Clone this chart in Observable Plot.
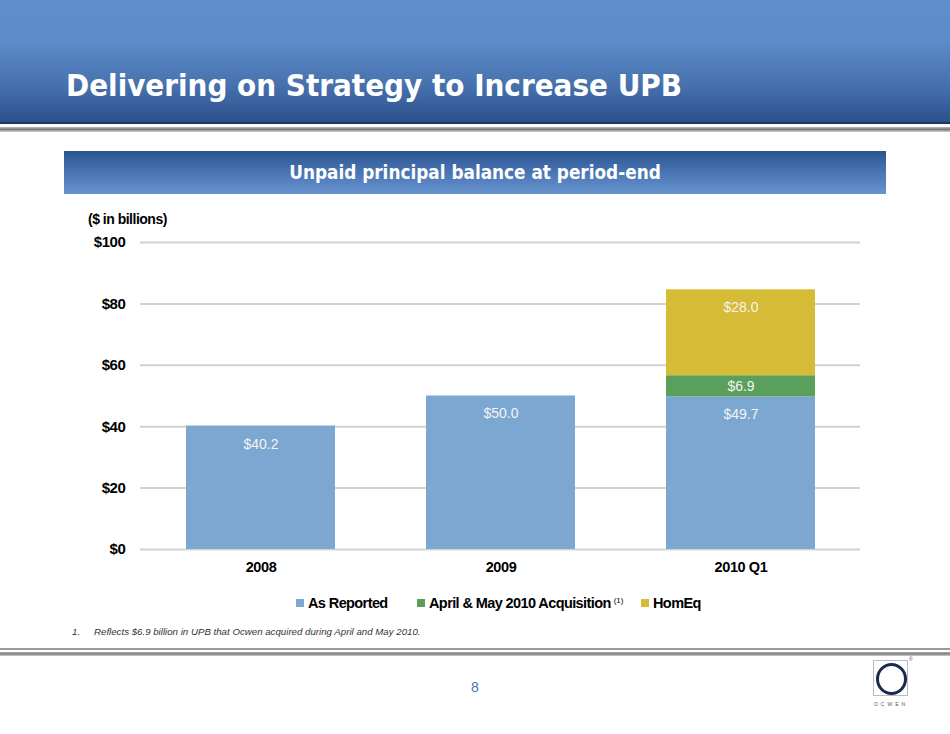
<!DOCTYPE html>
<html>
<head>
<meta charset="utf-8">
<script src="https://cdn.jsdelivr.net/npm/d3@7"></script>
<script src="https://cdn.jsdelivr.net/npm/@observablehq/plot@0.6"></script>
<style>
  html, body { margin: 0; padding: 0; background: #fff; }
  #page { position: relative; width: 950px; height: 734px; overflow: hidden; background: #fff; font-family: "Liberation Sans", Arial, sans-serif; }
  .abs { position: absolute; }
  #header { left: 0; top: 0; width: 950px; height: 122px;
    background: linear-gradient(to bottom, #5e8fcc 0%, #5b8bc8 35%, #4671ad 70%, #2c508c 100%); }
  #hline1 { left: 0; top: 122px; width: 950px; height: 2px; background: #1d3560; }
  #hline2 { left: 0; top: 124px; width: 950px; height: 3px; background: #fff; }
  #hline3 { left: 0; top: 127px; width: 950px; height: 5px; background: linear-gradient(to bottom, #bdbdbd, #7a7a7a, #d8d8d8); }
  #title { left: 66px; top: 67px; color: #fff; font-family: "DejaVu Sans", sans-serif; font-stretch: condensed; font-weight: bold; font-size: 31px; white-space: nowrap; }
  #banner { left: 64px; top: 151px; width: 822px; height: 43px;
    background: linear-gradient(to bottom, #2d5391 0%, #4672b0 45%, #6793d0 100%);
    color: #fff; font-family: "DejaVu Sans", sans-serif; font-stretch: condensed; font-weight: bold; font-size: 18.8px; text-align: center; line-height: 43px; }
  #units { left: 88px; top: 211px; font-weight: bold; font-size: 14px; letter-spacing: -0.5px; color: #000; white-space: nowrap; }
  #chart { left: 0; top: 230px; }
  #legend { left: 0; top: 594px; width: 950px; height: 20px; }
  .lg { position: absolute; top: 0; height: 18px; font-weight: bold; font-size: 14.5px; letter-spacing: -0.6px; color: #000; white-space: nowrap; line-height: 18px; }
  .sw { display: inline-block; width: 8px; height: 8px; margin-right: 4px; vertical-align: 1px; }
  .sup { position: relative; top: -5px; font-size: 8px; font-weight: normal; letter-spacing: 0; margin-left: 3px; line-height: 0; }
  #foot { left: 72px; top: 626px; font-size: 9.7px; font-style: italic; color: #333; white-space: nowrap; }
  #foot span { position: absolute; left: 22px; }
  #bline1 { left: 0; top: 648px; width: 950px; height: 2px; background: #9a9a9a; }
  #bline2 { left: 0; top: 650px; width: 950px; height: 2px; background: #fff; }
  #bline3 { left: 0; top: 652px; width: 950px; height: 4px; background: linear-gradient(to bottom, #b0b0b0, #7c7c7c, #d5d5d5); }
  #pagenum { left: 465px; top: 679px; width: 20px; text-align: center; color: #4d74b8; font-size: 14px; }
  #logo { left: 873px; top: 660px; width: 35px; height: 36px; border: 1px solid #b7bcc8; box-sizing: border-box; }
  #logo div { position: absolute; left: 2px; top: 2px; width: 25px; height: 26px; border: 3px solid #1a2a4e; border-radius: 50%; }
  #ocwen { left: 866px; top: 701px; width: 50px; text-align: center; font-size: 5px; letter-spacing: 3px; color: #555; }
  #reg { left: 909px; top: 656px; font-size: 5px; color: #555; }
</style>
</head>
<body>
<div id="page">
  <div id="header" class="abs"></div>
  <div id="hline1" class="abs"></div>
  <div id="hline2" class="abs"></div>
  <div id="hline3" class="abs"></div>
  <div id="title" class="abs">Delivering on Strategy to Increase UPB</div>
  <div id="banner" class="abs">Unpaid principal balance at period-end</div>
  <div id="units" class="abs">($ in billions)</div>
  <div id="chart" class="abs"></div>
  <div id="legend" class="abs"></div>
  <div id="foot" class="abs">1.<span>Reflects $6.9 billion in UPB that Ocwen acquired during April and May 2010.</span></div>
  <div id="bline1" class="abs"></div>
  <div id="bline2" class="abs"></div>
  <div id="bline3" class="abs"></div>
  <div id="pagenum" class="abs">8</div>
  <div id="logo" class="abs"><div></div></div>
  <div id="ocwen" class="abs">OCWEN</div>
  <div id="reg" class="abs">®</div>
</div>
<script>
// ---- data ----
const categories = ["2008", "2009", "2010 Q1"];
const seriesNames = ["As Reported", "April & May 2010 Acquisition", "HomEq"];
const asReported = [40.2, 50.0, 49.7];
const acquisition = [0, 0, 6.9];
const homEq = [0, 0, 28.0];
const yTicks = [0, 20, 40, 60, 80, 100];
const colors = ["#7ba7d0", "#5b9f5c", "#d6bb36"];

const seriesValues = [asReported, acquisition, homEq];
const rows = [];
categories.forEach((c, i) => {
  let base = 0;
  seriesValues.forEach((vals, s) => {
    const v = vals[i];
    if (v > 0) {
      rows.push({cat: c, series: seriesNames[s], value: v, y1: base, y2: base + v, s});
      base += v;
    }
  });
});

const fmt = v => "$" + v.toFixed(1);
const topLabels = rows.filter(d => d.s !== 1);
const midLabels = rows.filter(d => d.s === 1);

const chart = Plot.plot({
  width: 950,
  height: 350,
  marginLeft: 140,
  marginRight: 90,
  marginTop: 12,
  marginBottom: 31,
  style: {fontFamily: "'Liberation Sans', Arial, sans-serif", background: "transparent", overflow: "visible"},
  x: {domain: categories, paddingInner: 0.38, paddingOuter: 0.19, label: null},
  y: {domain: [0, 100], label: null},
  color: {domain: seriesNames, range: colors},
  marks: [
    Plot.ruleY(yTicks, {stroke: "#d3d3cb", strokeWidth: 2}),
    Plot.rectY(rows, {x: "cat", y1: "y1", y2: "y2", fill: "series"}),
    Plot.text(topLabels, {x: "cat", y: "y2", text: d => fmt(d.value), dy: 18, fill: "#f4f4f4", fontSize: 14}),
    Plot.text(midLabels, {x: "cat", y: d => (d.y1 + d.y2) / 2, text: d => fmt(d.value), fill: "#f4f4f4", fontSize: 14}),
    Plot.axisY({ticks: yTicks, tickFormat: d => "$" + d, tickSize: 0, tickPadding: 15, fontSize: 15, fontWeight: "bold", fill: "#000", label: null}),
    Plot.axisX({tickSize: 0, tickPadding: 12, fontSize: 14.5, fontWeight: "bold", fill: "#000", label: null})
  ]
});
chart.querySelectorAll("g[aria-label='y-axis tick label'] text, g[aria-label='x-axis tick label'] text").forEach(t => t.setAttribute("letter-spacing", "-0.4"));
document.getElementById("chart").appendChild(chart);

// legend
const legendX = [296, 417, 641];
const legend = document.getElementById("legend");
seriesNames.forEach((name, i) => {
  const item = document.createElement("div");
  item.className = "lg";
  item.style.left = legendX[i] + "px";
  const sw = document.createElement("span");
  sw.className = "sw";
  sw.style.background = colors[i];
  item.appendChild(sw);
  item.appendChild(document.createTextNode(name));
  if (i === 1) {
    const sup = document.createElement("span");
    sup.className = "sup";
    sup.textContent = "(1)";
    item.appendChild(sup);
  }
  legend.appendChild(item);
});
</script>
</body>
</html>
